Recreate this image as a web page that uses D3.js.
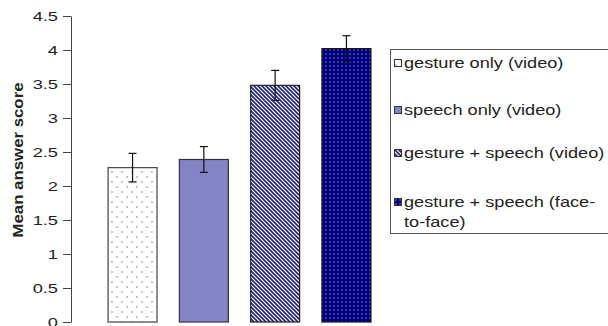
<!DOCTYPE html>
<html>
<head>
<meta charset="utf-8">
<script src="https://cdn.jsdelivr.net/npm/d3@7"></script>
<style>
  body { margin: 0; background: #fff; }
  text { font-family: Arial, "Liberation Sans", sans-serif; }
</style>
</head>
<body>
<svg id="chart" width="608" height="326"></svg>
<script>
// series shown as one cluster of bars
const seriesNames = ["gesture only (video)", "speech only (video)", "gesture + speech (video)", "gesture + speech (face-to-face)"];
const meanScores = [2.27, 2.39, 3.48, 4.02];
const errors = [0.21, 0.19, 0.22, 0.19];
const yTicks = [0, 0.5, 1, 1.5, 2, 2.5, 3, 3.5, 4, 4.5];
const legendLines = [["gesture only (video)"], ["speech only (video)"], ["gesture + speech (video)"], ["gesture + speech (face-", "to-face)"]];

const svg = d3.select("#chart");
const margin = { left: 71, top: 16 };
const plotRight = 408;
const plotBottom = 322;

// the source picture has wide-looking text, stretch it a bit
function stretch(sel, factor) {
  sel.each(function () {
    const len = this.getComputedTextLength();
    d3.select(this).attr("textLength", len * factor).attr("lengthAdjust", "spacingAndGlyphs");
  });
}

// patterns
const defs = svg.append("defs");
let p = defs.append("pattern").attr("id", "pDots").attr("patternUnits", "userSpaceOnUse")
  .attr("width", 10).attr("height", 10);
p.append("rect").attr("width", 10).attr("height", 10).attr("fill", "#fff");
p.append("circle").attr("cx", 2).attr("cy", 2).attr("r", 0.75).attr("fill", "#777");
p.append("circle").attr("cx", 7).attr("cy", 7).attr("r", 0.75).attr("fill", "#777");

p = defs.append("pattern").attr("id", "pSolid").attr("patternUnits", "userSpaceOnUse")
  .attr("width", 4).attr("height", 4);
p.append("rect").attr("width", 4).attr("height", 4).attr("fill", "#8484c6");
p.append("circle").attr("cx", 2).attr("cy", 2).attr("r", 0.5).attr("fill", "#7a7abb");

p = defs.append("pattern").attr("id", "pStripe").attr("patternUnits", "userSpaceOnUse")
  .attr("width", 4).attr("height", 4);
p.append("rect").attr("width", 4).attr("height", 4).attr("fill", "#fff");
p.append("path").attr("d", "M-1,-1 L5,5 M-1,3 L1,5 M3,-1 L5,1")
  .attr("stroke", "#22227a").attr("stroke-width", 1.6);

p = defs.append("pattern").attr("id", "pNavy").attr("patternUnits", "userSpaceOnUse")
  .attr("width", 4).attr("height", 4);
p.append("rect").attr("width", 4).attr("height", 4).attr("fill", "#00007e");
p.append("circle").attr("cx", 2).attr("cy", 2).attr("r", 0.75).attr("fill", "#9090dd");

const fills = ["url(#pDots)", "url(#pSolid)", "url(#pStripe)", "url(#pNavy)"];
const strokes = ["#444", "#333", "#222", "#111"];

const xScale = d3.scaleBand().domain(seriesNames).range([margin.left, plotRight])
  .paddingInner(0.313).paddingOuter(0.52);
const yScale = d3.scaleLinear().domain([0, 4.5]).range([plotBottom, margin.top]);

// y axis
const yAxis = d3.axisLeft(yScale).tickValues(yTicks).tickSize(8).tickSizeOuter(0)
  .tickFormat(d => String(d));
const gy = svg.append("g").attr("transform", `translate(${margin.left},0)`).call(yAxis);
gy.select(".domain").attr("stroke", "#444");
gy.selectAll(".tick line").attr("stroke", "#444");
gy.selectAll(".tick text").attr("font-size", 13.5).attr("fill", "#222").attr("x", -13)
  .attr("font-family", "Arial, 'Liberation Sans', sans-serif");
stretch(gy.selectAll(".tick text"), 1.35);

// y title, placed by its start so the stretch stays centred
const yTitle = svg.append("text")
  .attr("transform", `translate(23,160) rotate(-90)`)
  .attr("font-size", 15).attr("font-weight", "bold").attr("fill", "#222")
  .text("Mean answer score");
const titleLen = yTitle.node().getComputedTextLength() * 1.12;
yTitle.attr("x", -titleLen / 2).attr("textLength", titleLen).attr("lengthAdjust", "spacingAndGlyphs");

// bars
svg.selectAll(".bar").data(seriesNames).enter().append("rect")
  .attr("class", "bar")
  .attr("x", d => xScale(d))
  .attr("width", xScale.bandwidth())
  .attr("y", (d, i) => yScale(meanScores[i]))
  .attr("height", (d, i) => plotBottom - yScale(meanScores[i]))
  .attr("fill", (d, i) => fills[i])
  .attr("stroke", (d, i) => strokes[i])
  .attr("stroke-width", 1.2);

// error bars
const eb = svg.selectAll(".err").data(seriesNames).enter().append("g").attr("class", "err")
  .attr("stroke", "#111").attr("stroke-width", 1.2);
const cx = d => xScale(d) + xScale.bandwidth() / 2;
eb.append("line").attr("x1", cx).attr("x2", cx)
  .attr("y1", (d, i) => yScale(meanScores[i] + errors[i]))
  .attr("y2", (d, i) => yScale(meanScores[i] - errors[i]));
eb.append("line").attr("x1", d => cx(d) - 4).attr("x2", d => cx(d) + 4)
  .attr("y1", (d, i) => yScale(meanScores[i] + errors[i]))
  .attr("y2", (d, i) => yScale(meanScores[i] + errors[i]));
eb.append("line").attr("x1", d => cx(d) - 4).attr("x2", d => cx(d) + 4)
  .attr("y1", (d, i) => yScale(meanScores[i] - errors[i]))
  .attr("y2", (d, i) => yScale(meanScores[i] - errors[i]));

// legend
const legend = svg.append("g").attr("transform", "translate(390,49)");
legend.append("rect").attr("x", 0.5).attr("y", 0.5).attr("width", 230).attr("height", 184)
  .attr("fill", "#fff").attr("stroke", "#555");
const legendY = [14, 61, 104, 153];
const items = legend.selectAll(".li").data(seriesNames).enter().append("g")
  .attr("transform", (d, i) => `translate(4,${legendY[i]})`);
items.append("rect").attr("x", 0.5).attr("y", -3.5).attr("width", 7).attr("height", 7)
  .attr("fill", (d, i) => fills[i]).attr("stroke", "#333").attr("stroke-width", 1);
items.each(function (d, i) {
  legendLines[i].forEach((line, k) => {
    const t = d3.select(this).append("text").attr("x", 10).attr("y", 5 + k * 20)
      .attr("font-size", 15).attr("fill", "#222").text(line);
    stretch(t, 1.21);
  });
});
</script>
</body>
</html>
